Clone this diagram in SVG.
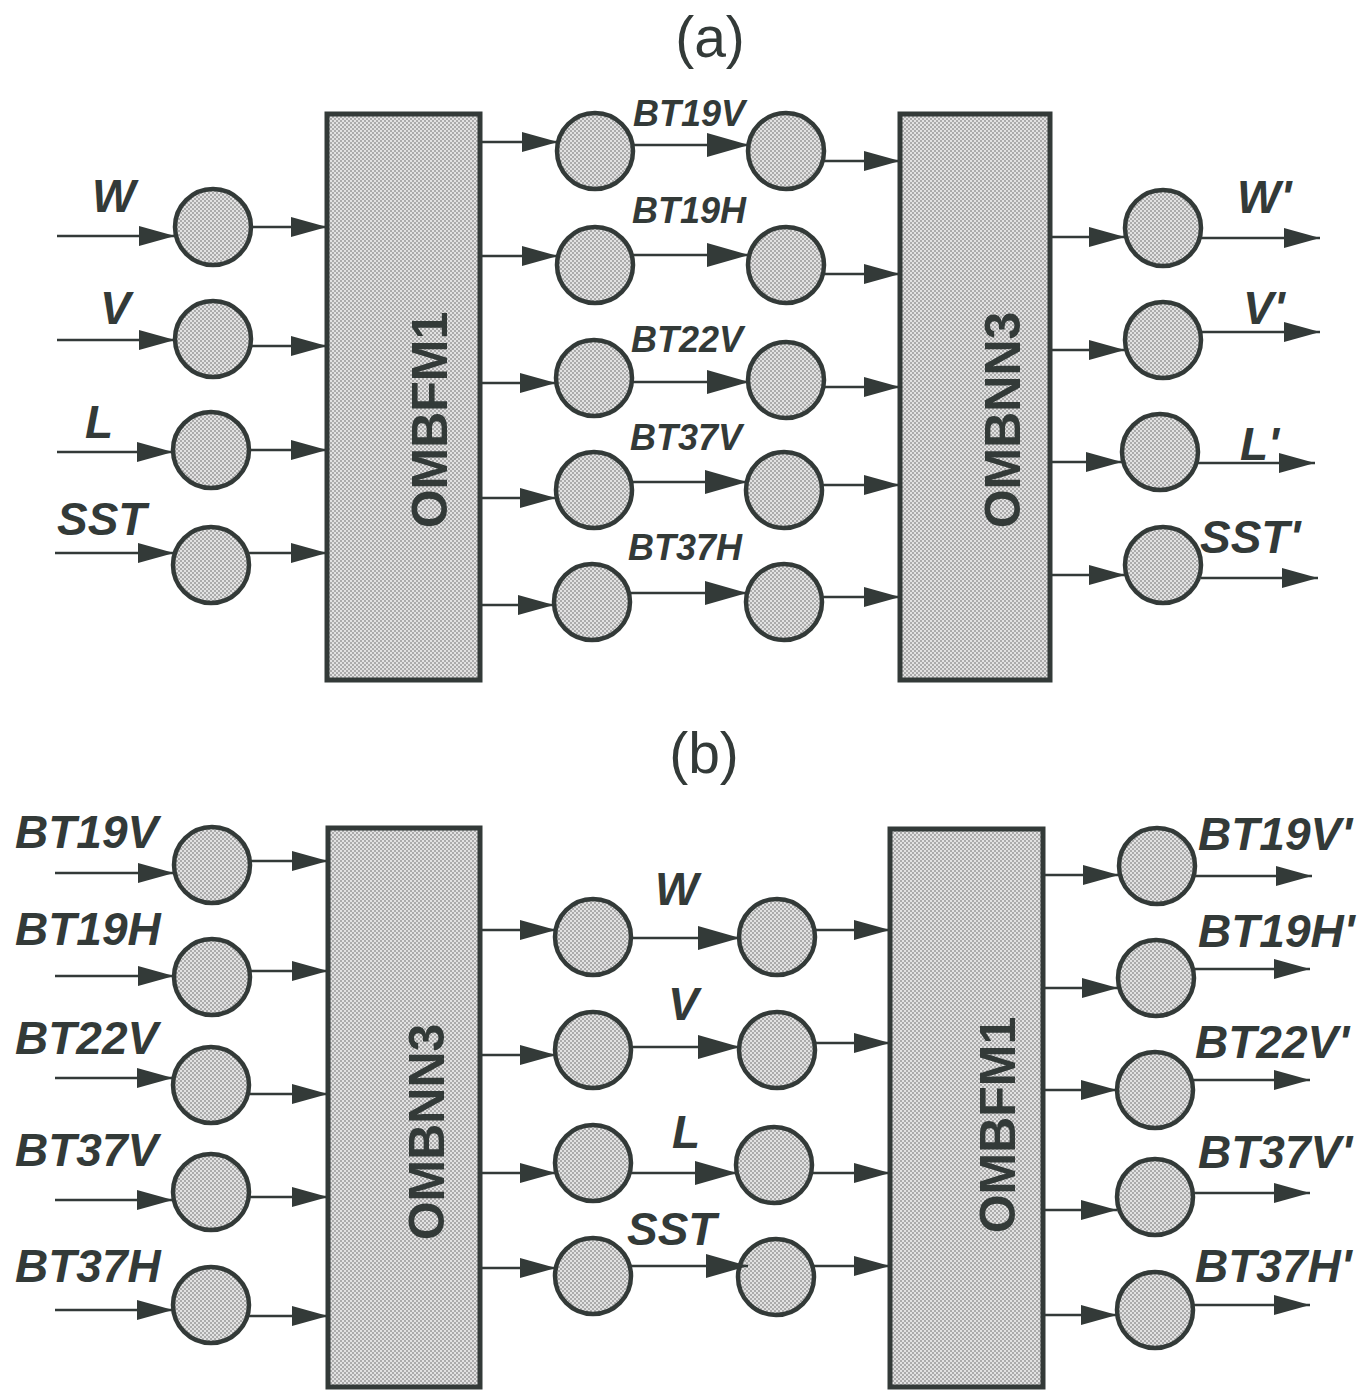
<svg xmlns="http://www.w3.org/2000/svg" width="1367" height="1391" viewBox="0 0 1367 1391">
<defs>
<pattern id="dots" width="4" height="4" patternUnits="userSpaceOnUse">
<rect width="4" height="4" fill="#e2e2e2"/>
<circle cx="1" cy="1" r="0.8" fill="#666"/>
<circle cx="3" cy="3" r="0.8" fill="#666"/>
</pattern>
<marker id="ah" markerUnits="userSpaceOnUse" markerWidth="36" markerHeight="20" refX="36" refY="10" orient="auto">
<path d="M0,0 L36,10 L0,20 z" fill="#333a38"/>
</marker>
<marker id="ahL" markerUnits="userSpaceOnUse" markerWidth="42" markerHeight="24" refX="42" refY="12" orient="auto">
<path d="M0,0 L42,12 L0,24 z" fill="#333a38"/>
</marker>
</defs>
<style>
.box{fill:url(#dots);stroke:#333a38;stroke-width:5}
.nd{fill:url(#dots);stroke:#333a38;stroke-width:4.5}
.c line{stroke:#333a38;stroke-width:2.5;marker-end:url(#ah)}
.c line.m{marker-end:url(#ahL)}
.lb{font-family:"Liberation Sans",Arial,sans-serif;font-weight:bold;font-style:italic;fill:#333a38}
.s46{font-size:46px}
.s36{font-size:36px}
.bx{font-family:"Liberation Sans",Arial,sans-serif;font-weight:bold;font-size:50px;fill:#333a38;text-anchor:middle;dominant-baseline:central}
.tt{font-family:"Liberation Sans",Arial,sans-serif;font-size:57px;fill:#333a38;text-anchor:middle}
</style>
<rect width="1367" height="1391" fill="#ffffff"/>

<text class="tt" x="710" y="57">(a)</text>
<text class="tt" x="704" y="773">(b)</text>

<!-- Part (a) -->
<g id="a_box1"><rect class="box" x="327" y="114" width="153" height="566"/><text class="bx" transform="translate(430,420) rotate(-90)">OMBFM1</text></g>
<g id="a_box2"><rect class="box" x="900" y="114" width="150" height="566"/><text class="bx" transform="translate(1003,420) rotate(-90)">OMBNN3</text></g>

<g id="a_inW"><circle class="nd" cx="213" cy="227" r="38"/><text class="lb s46" x="92" y="212">W</text></g>
<g id="a_inV"><circle class="nd" cx="213" cy="339" r="38"/><text class="lb s46" x="100" y="324">V</text></g>
<g id="a_inL"><circle class="nd" cx="211" cy="450" r="38"/><text class="lb s46" x="85" y="438">L</text></g>
<g id="a_inSST"><circle class="nd" cx="211" cy="565" r="38"/><text class="lb s46" x="57" y="535">SST</text></g>

<g id="a_m1"><circle class="nd" cx="595" cy="151" r="38"/><circle class="nd" cx="786" cy="151" r="38"/><text class="lb s36" x="633" y="126">BT19V</text></g>
<g id="a_m2"><circle class="nd" cx="595" cy="265" r="38"/><circle class="nd" cx="786" cy="265" r="38"/><text class="lb s36" x="632" y="223">BT19H</text></g>
<g id="a_m3"><circle class="nd" cx="594" cy="378" r="38"/><circle class="nd" cx="786" cy="380" r="38"/><text class="lb s36" x="631" y="352">BT22V</text></g>
<g id="a_m4"><circle class="nd" cx="594" cy="490" r="38"/><circle class="nd" cx="784" cy="490" r="38"/><text class="lb s36" x="630" y="450">BT37V</text></g>
<g id="a_m5"><circle class="nd" cx="592" cy="602" r="38"/><circle class="nd" cx="784" cy="602" r="38"/><text class="lb s36" x="628" y="560">BT37H</text></g>

<g id="a_outW"><circle class="nd" cx="1163" cy="228" r="38"/><text class="lb s46" x="1237" y="213">W'</text></g>
<g id="a_outV"><circle class="nd" cx="1163" cy="340" r="38"/><text class="lb s46" x="1243" y="324">V'</text></g>
<g id="a_outL"><circle class="nd" cx="1160" cy="452" r="38"/><text class="lb s46" x="1240" y="460">L'</text></g>
<g id="a_outSST"><circle class="nd" cx="1163" cy="565" r="38"/><text class="lb s46" x="1200" y="553">SST'</text></g>

<!-- Part (b) -->
<g id="b_box1"><rect class="box" x="328" y="828" width="152" height="559"/><text class="bx" transform="translate(427,1132) rotate(-90)">OMBNN3</text></g>
<g id="b_box2"><rect class="box" x="890" y="829" width="153" height="558"/><text class="bx" transform="translate(998,1125) rotate(-90)">OMBFM1</text></g>

<g id="b_in1"><circle class="nd" cx="212" cy="865" r="38"/><text class="lb s46" x="15" y="848">BT19V</text></g>
<g id="b_in2"><circle class="nd" cx="212" cy="977" r="38"/><text class="lb s46" x="15" y="945">BT19H</text></g>
<g id="b_in3"><circle class="nd" cx="211" cy="1085" r="38"/><text class="lb s46" x="15" y="1054">BT22V</text></g>
<g id="b_in4"><circle class="nd" cx="211" cy="1192" r="38"/><text class="lb s46" x="15" y="1166">BT37V</text></g>
<g id="b_in5"><circle class="nd" cx="211" cy="1305" r="38"/><text class="lb s46" x="15" y="1282">BT37H</text></g>

<g id="b_mW"><circle class="nd" cx="593" cy="937" r="38"/><circle class="nd" cx="777" cy="937" r="38"/><text class="lb s46" x="655" y="905">W</text></g>
<g id="b_mV"><circle class="nd" cx="593" cy="1050" r="38"/><circle class="nd" cx="777" cy="1050" r="38"/><text class="lb s46" x="668" y="1020">V</text></g>
<g id="b_mL"><circle class="nd" cx="593" cy="1163" r="38"/><circle class="nd" cx="774" cy="1165" r="38"/><text class="lb s46" x="672" y="1148">L</text></g>
<g id="b_mSST"><circle class="nd" cx="593" cy="1276" r="38"/><circle class="nd" cx="776" cy="1277" r="38"/><text class="lb s46" x="627" y="1245">SST</text></g>

<g id="b_out1"><circle class="nd" cx="1157" cy="866" r="38"/><text class="lb s46" x="1198" y="850">BT19V'</text></g>
<g id="b_out2"><circle class="nd" cx="1156" cy="978" r="38"/><text class="lb s46" x="1198" y="947">BT19H'</text></g>
<g id="b_out3"><circle class="nd" cx="1155" cy="1090" r="38"/><text class="lb s46" x="1195" y="1058">BT22V'</text></g>
<g id="b_out4"><circle class="nd" cx="1155" cy="1197" r="38"/><text class="lb s46" x="1198" y="1168">BT37V'</text></g>
<g id="b_out5"><circle class="nd" cx="1155" cy="1310" r="38"/><text class="lb s46" x="1195" y="1282">BT37H'</text></g>

<g id="connectors" class="c">
<!-- (a) left inputs -->
<line x1="57" y1="236" x2="175" y2="236"/>
<line x1="57" y1="340" x2="175" y2="340"/>
<line x1="57" y1="452" x2="173" y2="452"/>
<line x1="55" y1="553" x2="174" y2="553"/>
<!-- (a) left to box1 -->
<line x1="251" y1="227" x2="327" y2="227"/>
<line x1="251" y1="346" x2="327" y2="346"/>
<line x1="249" y1="450" x2="327" y2="450"/>
<line x1="249" y1="553" x2="327" y2="553"/>
<!-- (a) box1 to middle -->
<line x1="482" y1="142" x2="558" y2="142"/>
<line x1="482" y1="256" x2="558" y2="256"/>
<line x1="482" y1="383" x2="556" y2="383"/>
<line x1="482" y1="498" x2="556" y2="498"/>
<line x1="482" y1="605" x2="554" y2="605"/>
<!-- (a) middle pair -->
<line class="m" x1="633" y1="145" x2="749" y2="145"/>
<line class="m" x1="633" y1="255" x2="749" y2="255"/>
<line class="m" x1="632" y1="382" x2="749" y2="382"/>
<line class="m" x1="632" y1="482" x2="747" y2="482"/>
<line class="m" x1="630" y1="593" x2="747" y2="593"/>
<!-- (a) middle to box2 -->
<line x1="824" y1="161" x2="900" y2="161"/>
<line x1="824" y1="274" x2="900" y2="274"/>
<line x1="824" y1="387" x2="900" y2="387"/>
<line x1="822" y1="485" x2="900" y2="485"/>
<line x1="822" y1="597" x2="900" y2="597"/>
<!-- (a) box2 to right -->
<line x1="1050" y1="237" x2="1125" y2="237"/>
<line x1="1050" y1="350" x2="1125" y2="350"/>
<line x1="1050" y1="462" x2="1122" y2="462"/>
<line x1="1050" y1="575" x2="1125" y2="575"/>
<!-- (a) right outputs -->
<line x1="1201" y1="238" x2="1320" y2="238"/>
<line x1="1201" y1="332" x2="1320" y2="332"/>
<line x1="1198" y1="463" x2="1315" y2="463"/>
<line x1="1201" y1="578" x2="1318" y2="578"/>

<!-- (b) left inputs -->
<line x1="55" y1="873" x2="174" y2="873"/>
<line x1="55" y1="976" x2="174" y2="976"/>
<line x1="55" y1="1078" x2="173" y2="1078"/>
<line x1="55" y1="1200" x2="173" y2="1200"/>
<line x1="55" y1="1310" x2="173" y2="1310"/>
<!-- (b) left to box1 -->
<line x1="250" y1="861" x2="328" y2="861"/>
<line x1="250" y1="971" x2="328" y2="971"/>
<line x1="249" y1="1094" x2="328" y2="1094"/>
<line x1="249" y1="1197" x2="328" y2="1197"/>
<line x1="249" y1="1316" x2="328" y2="1316"/>
<!-- (b) box1 to middle -->
<line x1="480" y1="930" x2="556" y2="930"/>
<line x1="480" y1="1055" x2="556" y2="1055"/>
<line x1="480" y1="1173" x2="556" y2="1173"/>
<line x1="480" y1="1268" x2="556" y2="1268"/>
<!-- (b) middle pair -->
<line class="m" x1="631" y1="938" x2="740" y2="938"/>
<line class="m" x1="631" y1="1047" x2="740" y2="1047"/>
<line class="m" x1="631" y1="1173" x2="737" y2="1173"/>
<line class="m" x1="631" y1="1266" x2="748" y2="1266"/>
<!-- (b) middle to box2 -->
<line x1="815" y1="930" x2="890" y2="930"/>
<line x1="815" y1="1043" x2="890" y2="1043"/>
<line x1="812" y1="1173" x2="890" y2="1173"/>
<line x1="814" y1="1266" x2="890" y2="1266"/>
<!-- (b) box2 to right -->
<line x1="1043" y1="875" x2="1119" y2="875"/>
<line x1="1043" y1="988" x2="1118" y2="988"/>
<line x1="1043" y1="1090" x2="1117" y2="1090"/>
<line x1="1043" y1="1210" x2="1117" y2="1210"/>
<line x1="1043" y1="1315" x2="1117" y2="1315"/>
<!-- (b) right outputs -->
<line x1="1195" y1="876" x2="1312" y2="876"/>
<line x1="1194" y1="969" x2="1310" y2="969"/>
<line x1="1193" y1="1080" x2="1310" y2="1080"/>
<line x1="1193" y1="1193" x2="1310" y2="1193"/>
<line x1="1193" y1="1305" x2="1310" y2="1305"/>
</g>
</svg>
